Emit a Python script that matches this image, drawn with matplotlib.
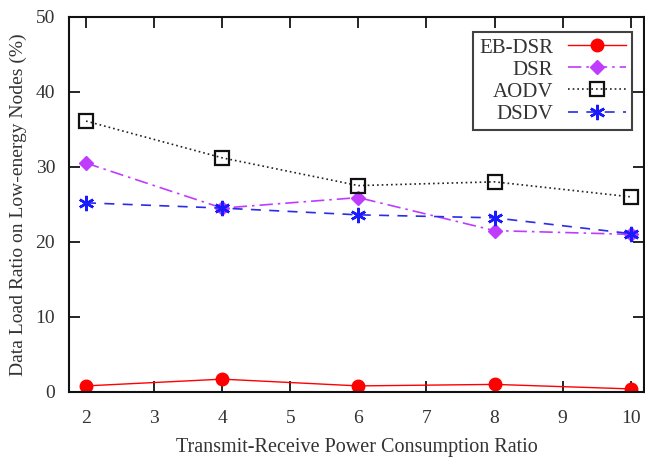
import matplotlib
matplotlib.use("Agg")
import matplotlib.pyplot as plt

x = [2, 4, 6, 8, 10]
eb_dsr = [0.8, 1.7, 0.8, 1.0, 0.4]
dsr = [30.5, 24.5, 25.9, 21.5, 21.0]
aodv = [36.1, 31.2, 27.5, 28.0, 26.0]
dsdv = [25.2, 24.5, 23.6, 23.2, 21.1]
xticks = [2, 3, 4, 5, 6, 7, 8, 9, 10]
yticks = [0, 10, 20, 30, 40, 50]

plt.rcParams['font.family'] = ['Liberation Serif', 'DejaVu Serif']
fig = plt.figure(figsize=(6.45, 4.66), dpi=100)
ax = fig.add_axes([0.107, 0.159, 0.892, 0.805])

ax.plot(x, eb_dsr, color='#ff0000', lw=1.0, ls='-', marker='o', ms=9,
        markerfacecolor='#ff0000', markeredgecolor='#ff0000', label='EB-DSR')
ax.plot(x, dsr, color='#bf3cff', lw=1.2, ls=(0, (8, 3, 1.5, 3)), marker='D', ms=7,
        markerfacecolor='#bf3cff', markeredgecolor='#bf3cff', label='DSR')
ax.plot(x, aodv, color='#222222', lw=1.2, ls=(0, (1, 1.8)), marker='s', ms=10,
        markerfacecolor='none', markeredgecolor='#111111', markeredgewidth=1.6, label='AODV')
ax.plot(x, dsdv, color='#2b2bea', lw=1.2, ls=(0, (6, 5)), marker=(6, 2, 0), ms=11,
        markeredgecolor='#1a1aff', markeredgewidth=1.8, label='DSDV')

ax.set_xlim(1.75, 10.2)
ax.set_ylim(0, 50)
ax.set_xticks(xticks)
ax.set_yticks(yticks)
ax.tick_params(direction='in', length=8, width=1.2, top=True, right=True,
               labelsize=14, labelcolor='#333333')
ax.tick_params(axis='x', pad=13)
ax.tick_params(axis='y', pad=10)
for s in ax.spines.values():
    s.set_linewidth(1.5)
    s.set_color('#111111')

ax.set_xlabel('Transmit-Receive Power Consumption Ratio', fontsize=14.5, color='#333333', labelpad=8)
ax.set_ylabel('Data Load Ratio on Low-energy Nodes (%)', fontsize=14, color='#333333', labelpad=6)

leg = ax.legend(loc='upper right', bbox_to_anchor=(0.979, 0.96), markerfirst=False,
                fontsize=15, frameon=True, fancybox=False, edgecolor='#111111',
                handlelength=2.8, borderpad=0.3, labelspacing=0.12, handletextpad=0.7,
                borderaxespad=0)
leg.get_frame().set_linewidth(1.5)
for t in leg.get_texts():
    t.set_color('#333333')

fig.savefig('out.png', dpi=100)
